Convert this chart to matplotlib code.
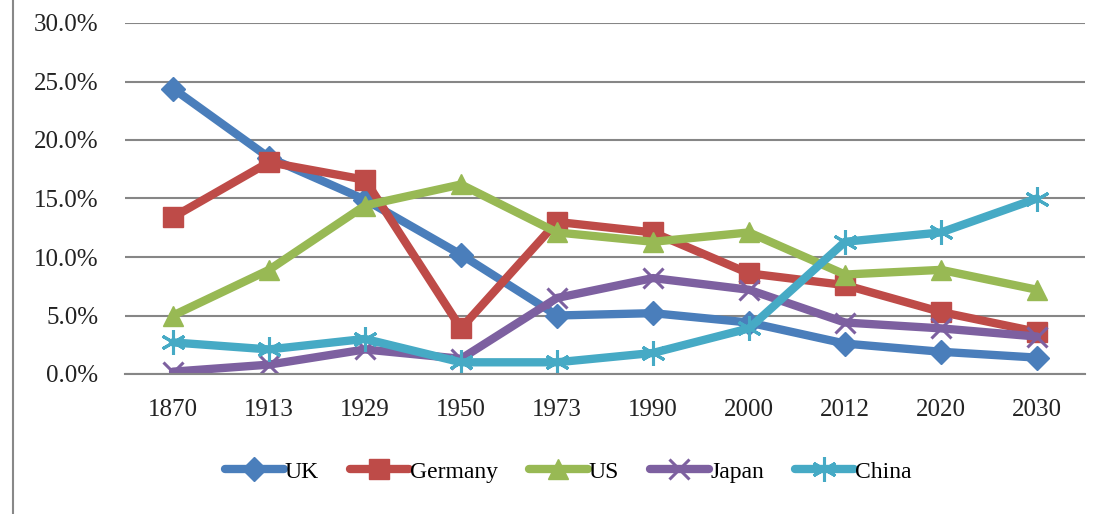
import matplotlib
matplotlib.use("Agg")
import matplotlib.pyplot as plt
from matplotlib.lines import Line2D
from matplotlib.ticker import PercentFormatter

years = ["1870", "1913", "1929", "1950", "1973", "1990", "2000", "2012", "2020", "2030"]
uk      = [24.4, 18.5, 14.9, 10.2, 5.0, 5.2, 4.4, 2.6, 1.9, 1.4]
germany = [13.4, 18.1, 16.6, 3.9, 13.0, 12.1, 8.6, 7.6, 5.3, 3.6]
us      = [5.0, 8.9, 14.4, 16.2, 12.1, 11.3, 12.1, 8.5, 8.9, 7.2]
japan   = [0.2, 0.8, 2.1, 1.3, 6.5, 8.2, 7.2, 4.4, 3.9, 3.2]
china   = [2.7, 2.1, 3.0, 1.0, 1.0, 1.8, 3.9, 11.3, 12.1, 15.0]

series = [
    ("UK", uk, "#4a7ebb", "D", 12),
    ("Germany", germany, "#be4b48", "s", 15),
    ("US", us, "#98b954", "^", 15),
    ("Japan", japan, "#7d60a0", "x", 15),
    ("China", china, "#46aac5", (6, 2, 0), 18),
]

plt.rcParams['font.family'] = ['Liberation Serif', 'DejaVu Serif']

fig = plt.figure(figsize=(11.09, 5.14), dpi=100)
ax = fig.add_axes([125/1109, 1-374/514, 960/1109, 351/514])

x = list(range(len(years)))
for name, vals, col, mk, ms in series:
    v = [a / 100 for a in vals]
    if mk in ("x",) or isinstance(mk, tuple):
        ax.plot(x, v, color=col, lw=6, marker=mk, ms=ms, mew=2.2, mec=col,
                label=name, solid_capstyle='round', solid_joinstyle='round')
    else:
        ax.plot(x, v, color=col, lw=6, marker=mk, ms=ms, mfc=col, mec=col,
                mew=1.0, label=name, solid_capstyle='round', solid_joinstyle='round')

ax.set_xlim(-0.5, len(years) - 0.5)
ax.set_ylim(0, 0.30)
ax.set_yticks([i * 0.05 for i in range(7)])
ax.yaxis.set_major_formatter(PercentFormatter(1.0, decimals=1))
ax.set_xticks(x)
ax.set_xticklabels(years)
ax.yaxis.grid(True, color="#868686", lw=1.5)
ax.set_axisbelow(True)
for s in ["top", "right", "left"]:
    ax.spines[s].set_visible(False)
ax.spines["bottom"].set_color("#868686")
ax.spines["bottom"].set_linewidth(1.5)
ax.tick_params(axis="both", length=0, labelsize=18, colors="#222222")
ax.tick_params(axis="y", pad=19)
ax.tick_params(axis="x", pad=18)

fig.add_artist(Line2D([13/1109, 13/1109], [0, 1], transform=fig.transFigure,
                      color="#888888", lw=1.5))

leg = fig.legend(loc="center", bbox_to_anchor=(568/1109, 1-472/514), ncol=5,
                 frameon=False, fontsize=17, handlelength=2.5, columnspacing=1.3,
                 handletextpad=0.05)

fig.savefig("out.png", dpi=100)
